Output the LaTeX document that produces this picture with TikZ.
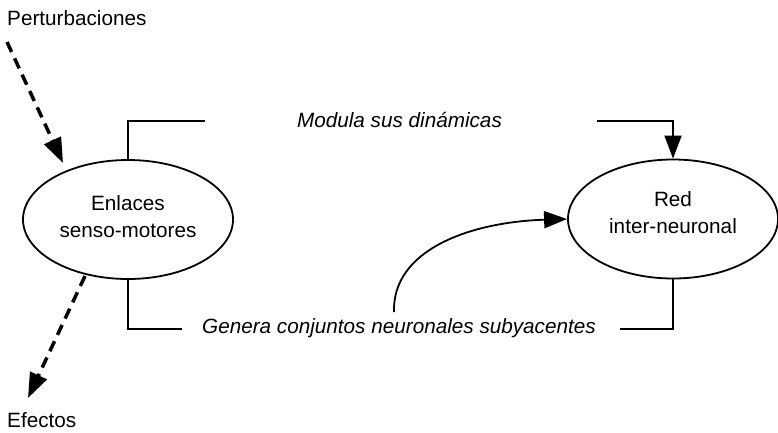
\documentclass[tikz,border=0pt]{standalone}
\usepackage{fontspec}
\setmainfont{Liberation Sans}
\usetikzlibrary{arrows.meta,shapes.geometric}
\begin{document}
\begin{tikzpicture}[x=1pt,y=-1pt,
  txt/.style={font=\fontsize{20.7}{27.5}\selectfont, inner sep=0pt},
  itxt/.style={font=\fontsize{20.7}{27.5}\selectfont\itshape, inner sep=0pt},
  oval/.style={draw, ellipse, line width=1.8pt, minimum width=210pt, minimum height=119pt, inner sep=0pt},
  link/.style={line width=1.8pt},
  dasharrow/.style={line width=3.5pt, dash pattern=on 11pt off 7pt, -{Triangle[length=25pt,width=18pt]}},
  solidarrow/.style={line width=1.8pt, -{Triangle[length=23pt,width=17pt]}}
]
\useasboundingbox (0,0) rectangle (778,432);

% ellipses
\node[oval] (enl) at (128,219.5) {};
\node[txt, align=center] (enlt) at (128,216.5) {Enlaces\\senso-motores};
\node[oval] (red) at (673,219) {};
\node[txt, align=center] (redt) at (673,212.5) {Red\\inter-neuronal};

% labels
\node[txt, anchor=base west] (pert) at (7,25) {Perturbaciones};
\node[txt, anchor=base west] (efe) at (7,427.5) {Efectos};
\node[itxt, anchor=base] (mod) at (399.5,127) {Modula sus dinámicas};
\node[itxt, anchor=base] (gen) at (399,333) {Genera conjuntos neuronales subyacentes};

% free ends
\coordinate (mL) at (205,121);
\coordinate (mR) at (597,121);
\coordinate (gL) at (182,329);
\coordinate (gR) at (620,329);
\coordinate (cS) at (394,312);
\coordinate (p0) at (7,42);
\coordinate (p1) at (63,163);
\coordinate (e0) at (85,276);
\coordinate (e1) at (28,398);

% brackets
\draw[link] (enl.north) |- (mL);
\draw[solidarrow] (mR) -| (red.north);
\draw[link] (enl.south) |- (gL);
\draw[link] (gR) -| (red.south);

% curve
\draw[solidarrow] (cS) .. controls (392,250) and (470,222) .. (red.west);

% dashed arrows
\draw[dasharrow] (p0) -- (p1);
\draw[dasharrow] (e0) -- (e1);
\end{tikzpicture}
\end{document}
